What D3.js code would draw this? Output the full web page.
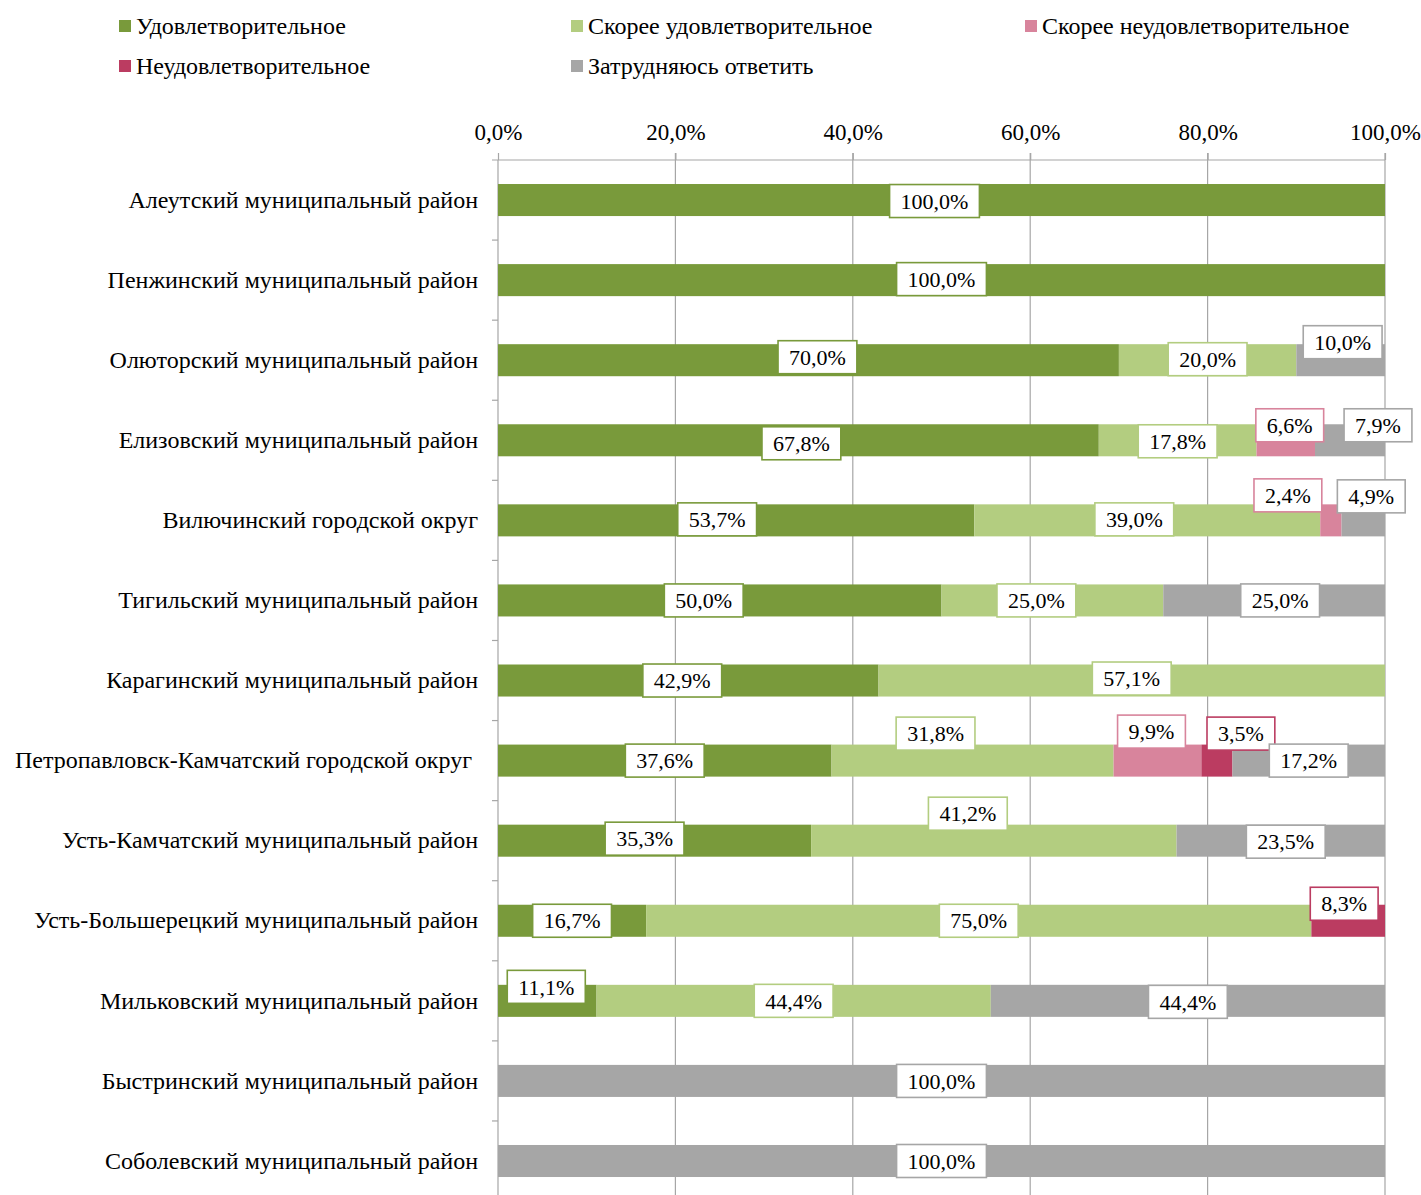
<!DOCTYPE html>
<html>
<head>
<meta charset="utf-8">
<script src="https://cdn.jsdelivr.net/npm/d3@7"></script>
<style>
  body { margin: 0; background: #fff; }
  svg text { font-family: "Liberation Serif", "Times New Roman", serif; fill: #000; }
</style>
</head>
<body>
<div id="chart"></div>
<script>
// --- DATA ---
const districts = [
  'Алеутский муниципальный район',
  'Пенжинский муниципальный район',
  'Олюторский муниципальный район',
  'Елизовский муниципальный район',
  'Вилючинский городской округ',
  'Тигильский муниципальный район',
  'Карагинский муниципальный район',
  'Петропавловск-Камчатский городской округ ',
  'Усть-Камчатский муниципальный район',
  'Усть-Большерецкий муниципальный район',
  'Мильковский муниципальный район',
  'Быстринский муниципальный район',
  'Соболевский муниципальный район'
];
const seriesNames = [
  'Удовлетворительное',
  'Скорее удовлетворительное',
  'Скорее неудовлетворительное',
  'Неудовлетворительное',
  'Затрудняюсь ответить'
];
const satisfied       = [100, 100, 70.0, 67.8, 53.7, 50.0, 42.9, 37.6, 35.3, 16.7, 11.1, 0, 0];
const ratherSatisfied = [0, 0, 20.0, 17.8, 39.0, 25.0, 57.1, 31.8, 41.2, 75.0, 44.4, 0, 0];
const ratherUnsat     = [0, 0, 0, 6.6, 2.4, 0, 0, 9.9, 0, 0, 0, 0, 0];
const unsatisfied     = [0, 0, 0, 0, 0, 0, 0, 3.5, 0, 8.3, 0, 0, 0];
const hardToSay       = [0, 0, 10.0, 7.9, 4.9, 25.0, 0, 17.2, 23.5, 0, 44.4, 100, 100];
const xTicks = [0, 0.2, 0.4, 0.6, 0.8, 1.0];

// --- STYLE ---
const colors = ['#799a3b', '#b3cd80', '#d8849c', '#bb3c61', '#a6a6a6'];
// label nudges (px) relative to segment centre, Excel-style manual placement
const labelShift = [
  [[-7, 1]],
  [[0, -1]],
  [[9, -3], [0, -1], null, null, [2, -18]],
  [[3, 3], [0, 1], [4, -15], null, [28, -15]],
  [[-19, -1], [-13, -1], [-43, -25], null, [8, -24]],
  [[-16, 0], [-16, 0], null, null, [6, 0]],
  [[-6, 0], [0, -2]],
  [[0, 0], [-37, -27], [-6, -29], [24, -27], [0, 0]],
  [[-10, -2], [-26, -27], null, null, [5, 1]],
  [[0, 0], [0, 0], null, [-4, -17], null],
  [[-1, -14], [0, 0], null, null, [0, 1]],
  [null, null, null, null, [0, 0]],
  [null, null, null, null, [0, 0]]
];

const width = 1421, height = 1195;
const plotLeft = 498, plotRight = 1385, plotTop = 160, step = 80.08;

const svg = d3.select('#chart').append('svg')
  .attr('width', width).attr('height', height);

const rows = districts.map((d, i) => ({
  name: d, i,
  s0: satisfied[i], s1: ratherSatisfied[i], s2: ratherUnsat[i], s3: unsatisfied[i], s4: hardToSay[i]
}));
const keys = ['s0', 's1', 's2', 's3', 's4'];
const stacked = d3.stack().keys(keys).offset(d3.stackOffsetExpand)(rows);

const x = d3.scaleLinear().domain([0, 1]).range([plotLeft, plotRight]);
const y = d3.scaleBand().domain(districts)
  .range([plotTop, plotTop + step * districts.length])
  .paddingInner(0.6).paddingOuter(0.3);

// gridlines
svg.append('g').selectAll('line')
  .data(xTicks.slice(1))
  .join('line')
    .attr('x1', d => x(d)).attr('x2', d => x(d))
    .attr('y1', plotTop - 7).attr('y2', height)
    .attr('stroke', '#a6a6a6').attr('stroke-width', 1.2);

// top axis
const xAxis = svg.append('g')
  .attr('transform', `translate(0,${plotTop})`)
  .call(d3.axisTop(x).tickValues(xTicks).tickSize(7).tickPadding(13)
    .tickFormat(d => d3.format('.1%')(d).replace('.', ',')));
xAxis.select('.domain').remove();
xAxis.selectAll('line').attr('stroke', '#a6a6a6').attr('stroke-width', 1.2);
xAxis.selectAll('text').style('font-size', '23px')
  .style('font-family', '"Liberation Serif", serif');
svg.append('line')
  .attr('x1', plotLeft - 6).attr('x2', plotRight)
  .attr('y1', plotTop).attr('y2', plotTop)
  .attr('stroke', '#a6a6a6').attr('stroke-width', 1.2);

// left axis
svg.append('line')
  .attr('x1', plotLeft).attr('x2', plotLeft)
  .attr('y1', plotTop).attr('y2', height)
  .attr('stroke', '#a6a6a6').attr('stroke-width', 1.2);
svg.append('g').selectAll('line')
  .data(districts.slice(1))
  .join('line')
    .attr('x1', plotLeft - 6).attr('x2', plotLeft)
    .attr('y1', d => y(d) - y.step() * y.paddingInner() / 2)
    .attr('y2', d => y(d) - y.step() * y.paddingInner() / 2)
    .attr('stroke', '#a6a6a6').attr('stroke-width', 1.2);

const yAxis = svg.append('g')
  .attr('transform', `translate(${plotLeft},0)`)
  .call(d3.axisLeft(y).tickSize(0).tickPadding(20));
yAxis.select('.domain').remove();
yAxis.selectAll('text').style('font-size', '24px')
  .style('font-family', '"Liberation Serif", serif')
  .style('white-space', 'pre');

// bars
svg.append('g').selectAll('g')
  .data(stacked)
  .join('g')
    .attr('fill', (d, k) => colors[k])
  .selectAll('rect')
  .data(d => d)
  .join('rect')
    .attr('x', d => x(d[0]))
    .attr('y', d => y(d.data.name))
    .attr('width', d => x(d[1]) - x(d[0]))
    .attr('height', y.bandwidth());

// data labels
const labels = [];
stacked.forEach((layer, k) => {
  layer.forEach((d, i) => {
    const v = rows[i][keys[k]];
    if (!v) return;
    const sh = (labelShift[i][k]) || [0, 0];
    labels.push({
      k, v,
      cx: x((d[0] + d[1]) / 2) + sh[0],
      cy: y(d.data.name) + y.bandwidth() / 2 + sh[1]
    });
  });
});

const lab = svg.append('g').selectAll('g')
  .data(labels)
  .join('g')
    .attr('transform', d => `translate(${d.cx},${d.cy})`);
lab.append('text')
  .attr('text-anchor', 'middle')
  .attr('dy', '0.35em')
  .style('font-size', '22px')
  .text(d => d.v.toFixed(1).replace('.', ',') + '%');
lab.each(function(d) {
  const g = d3.select(this);
  const bb = g.select('text').node().getBBox();
  g.insert('rect', 'text')
    .attr('x', bb.x - 11).attr('y', -16.5)
    .attr('width', bb.width + 22).attr('height', 33)
    .attr('fill', '#fff')
    .attr('stroke', colors[d.k]).attr('stroke-width', 1.6);
});

// legend
const legendPos = [[119, 26], [571, 26], [1025, 26], [119, 66], [571, 66]];
const legend = svg.append('g').selectAll('g')
  .data(seriesNames)
  .join('g')
    .attr('transform', (d, k) => `translate(${legendPos[k][0]},${legendPos[k][1]})`);
legend.append('rect')
  .attr('x', 0).attr('y', -6).attr('width', 12).attr('height', 12)
  .attr('fill', (d, k) => colors[k]);
legend.append('text')
  .attr('x', 17).attr('dy', '0.35em')
  .style('font-size', '24px')
  .text(d => d);
</script>
</body>
</html>
